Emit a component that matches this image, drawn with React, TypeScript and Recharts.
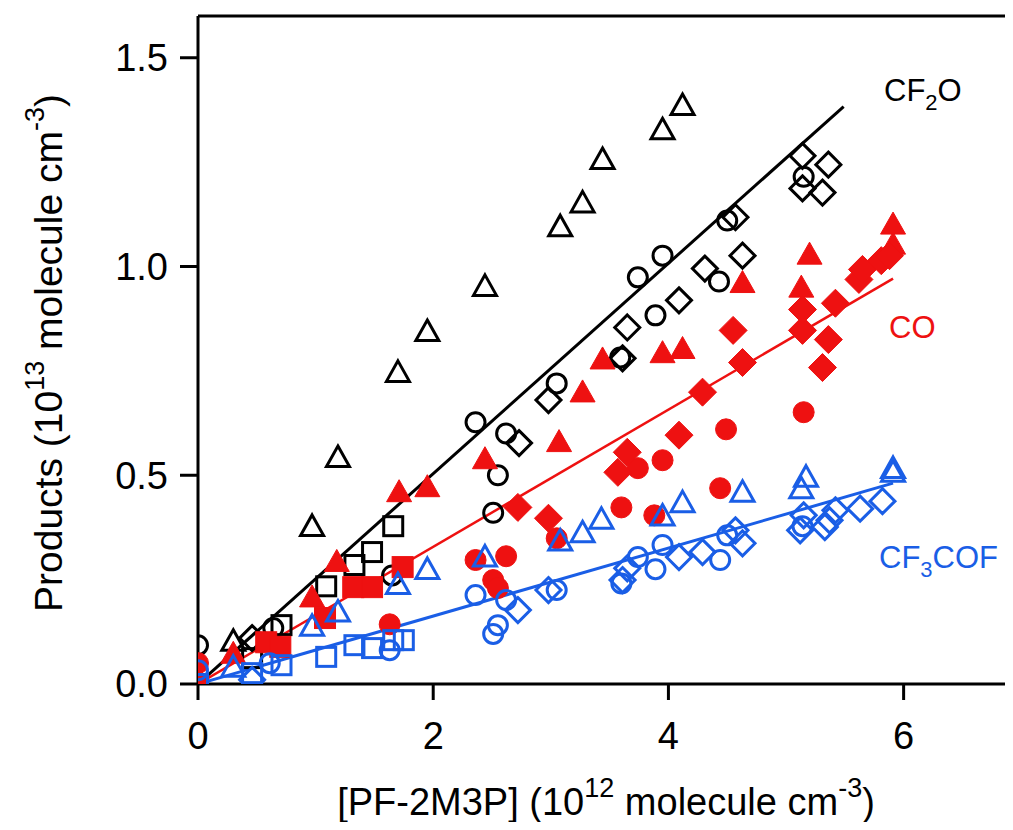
import React from 'react';
import { ScatterChart, Scatter, XAxis, YAxis, ReferenceLine, Label } from 'recharts';

// ---- data (x: 10^12 molecule cm^-3, y: 10^13 molecule cm^-3) ----
const cf2oTriangles = [
  { x: 0.30, y: 0.10 }, { x: 0.97, y: 0.375 }, { x: 1.19, y: 0.54 }, { x: 1.70, y: 0.744 },
  { x: 1.95, y: 0.842 }, { x: 2.44, y: 0.95 }, { x: 3.08, y: 1.093 }, { x: 3.27, y: 1.15 },
  { x: 3.44, y: 1.254 }, { x: 3.95, y: 1.325 }, { x: 4.12, y: 1.383 },
];
const cf2oCircles = [
  { x: 0.0, y: 0.093 }, { x: 0.64, y: 0.134 }, { x: 1.65, y: 0.26 }, { x: 2.36, y: 0.627 },
  { x: 2.62, y: 0.60 }, { x: 2.55, y: 0.50 }, { x: 2.51, y: 0.41 }, { x: 3.05, y: 0.72 },
  { x: 3.59, y: 0.782 }, { x: 3.74, y: 0.974 }, { x: 3.89, y: 0.883 }, { x: 3.95, y: 1.026 },
  { x: 4.43, y: 0.964 }, { x: 4.50, y: 1.11 }, { x: 5.15, y: 1.215 },
];
const cf2oDiamonds = [
  { x: 0.46, y: 0.11 }, { x: 2.73, y: 0.577 }, { x: 2.98, y: 0.68 }, { x: 3.61, y: 0.78 },
  { x: 3.65, y: 0.854 }, { x: 4.09, y: 0.919 }, { x: 4.31, y: 0.995 }, { x: 4.63, y: 1.026 },
  { x: 4.57, y: 1.118 }, { x: 5.14, y: 1.265 }, { x: 5.14, y: 1.187 }, { x: 5.31, y: 1.177 },
  { x: 5.36, y: 1.244 },
];
const cf2oSquares = [
  { x: 0.0, y: 0.0 }, { x: 0.46, y: 0.062 }, { x: 0.71, y: 0.141 }, { x: 1.09, y: 0.234 },
  { x: 1.33, y: 0.285 }, { x: 1.48, y: 0.316 }, { x: 1.66, y: 0.378 },
];

const coTriangles = [
  { x: 0.30, y: 0.07 }, { x: 0.97, y: 0.205 }, { x: 1.18, y: 0.29 }, { x: 1.71, y: 0.457 },
  { x: 1.95, y: 0.469 }, { x: 2.44, y: 0.536 }, { x: 3.07, y: 0.577 }, { x: 3.27, y: 0.696 },
  { x: 3.44, y: 0.775 }, { x: 3.95, y: 0.79 }, { x: 4.12, y: 0.80 }, { x: 4.63, y: 0.958 },
  { x: 5.13, y: 0.947 }, { x: 5.20, y: 1.026 }, { x: 5.91, y: 1.05 }, { x: 5.91, y: 1.098 },
];
const coCircles = [
  { x: 0.0, y: 0.05 }, { x: 1.63, y: 0.143 }, { x: 2.36, y: 0.297 }, { x: 2.62, y: 0.306 },
  { x: 2.51, y: 0.249 }, { x: 2.55, y: 0.23 }, { x: 3.05, y: 0.349 }, { x: 3.60, y: 0.423 },
  { x: 3.74, y: 0.517 }, { x: 3.88, y: 0.404 }, { x: 3.95, y: 0.536 }, { x: 4.44, y: 0.469 },
  { x: 4.49, y: 0.61 }, { x: 5.15, y: 0.651 },
];
const coDiamonds = [
  { x: 2.72, y: 0.423 }, { x: 2.98, y: 0.397 }, { x: 3.57, y: 0.507 }, { x: 3.65, y: 0.555 },
  { x: 4.09, y: 0.596 }, { x: 4.29, y: 0.699 }, { x: 4.55, y: 0.847 }, { x: 4.63, y: 0.77 },
  { x: 5.14, y: 0.847 }, { x: 5.14, y: 0.897 }, { x: 5.31, y: 0.758 }, { x: 5.36, y: 0.825 },
  { x: 5.42, y: 0.912 }, { x: 5.62, y: 0.969 }, { x: 5.65, y: 0.993 }, { x: 5.81, y: 1.014 },
  { x: 5.88, y: 1.026 },
];
const coSquares = [
  { x: 0.0, y: 0.0 }, { x: 0.58, y: 0.10 }, { x: 0.70, y: 0.089 }, { x: 1.08, y: 0.158 },
  { x: 1.32, y: 0.232 }, { x: 1.48, y: 0.232 }, { x: 1.74, y: 0.28 },
];

const cf3cofTriangles = [
  { x: 0.30, y: 0.038 }, { x: 0.97, y: 0.136 }, { x: 1.19, y: 0.17 }, { x: 1.70, y: 0.236 },
  { x: 1.95, y: 0.272 }, { x: 2.44, y: 0.302 }, { x: 3.08, y: 0.34 }, { x: 3.27, y: 0.36 },
  { x: 3.43, y: 0.392 }, { x: 3.95, y: 0.40 }, { x: 4.12, y: 0.432 }, { x: 4.63, y: 0.457 },
  { x: 5.13, y: 0.465 }, { x: 5.17, y: 0.493 }, { x: 5.91, y: 0.505 }, { x: 5.91, y: 0.514 },
];
const cf3cofCircles = [
  { x: 0.0, y: 0.033 }, { x: 0.61, y: 0.05 }, { x: 1.63, y: 0.081 }, { x: 2.36, y: 0.213 },
  { x: 2.62, y: 0.201 }, { x: 2.55, y: 0.141 }, { x: 2.51, y: 0.12 }, { x: 3.05, y: 0.225 },
  { x: 3.60, y: 0.241 }, { x: 3.74, y: 0.304 }, { x: 3.89, y: 0.275 }, { x: 3.95, y: 0.333 },
  { x: 4.44, y: 0.297 }, { x: 4.50, y: 0.356 }, { x: 5.14, y: 0.378 },
];
const cf3cofDiamonds = [
  { x: 0.46, y: 0.01 }, { x: 2.72, y: 0.177 }, { x: 2.98, y: 0.225 }, { x: 3.61, y: 0.249 },
  { x: 3.65, y: 0.277 }, { x: 4.09, y: 0.304 }, { x: 4.29, y: 0.316 }, { x: 4.57, y: 0.368 },
  { x: 4.63, y: 0.337 }, { x: 5.12, y: 0.368 }, { x: 5.15, y: 0.404 }, { x: 5.33, y: 0.376 },
  { x: 5.37, y: 0.392 }, { x: 5.42, y: 0.416 }, { x: 5.63, y: 0.42 }, { x: 5.82, y: 0.438 },
];
const cf3cofSquares = [
  { x: 0.0, y: 0.0 }, { x: 0.46, y: 0.026 }, { x: 0.71, y: 0.045 }, { x: 1.09, y: 0.065 },
  { x: 1.33, y: 0.093 }, { x: 1.48, y: 0.086 }, { x: 1.66, y: 0.105 }, { x: 1.75, y: 0.105 },
];

const fitCF2O = [{ x: 0, y: 0 }, { x: 5.49, y: 1.383 }];
const fitCO = [{ x: 0, y: 0 }, { x: 5.91, y: 0.971 }];
const fitCF3COF = [{ x: 0, y: 0 }, { x: 5.91, y: 0.481 }];

const xTicks = [0, 2, 4, 6];
const yTicks = [0, 0.5, 1.0, 1.5];

const BLACK = '#000000';
const RED = '#ee1111';
const BLUE = '#1a5ee6';
const FONT = '"Liberation Sans", Arial, sans-serif';
const SW = 3;

type ShapeProps = { cx?: number; cy?: number };

const makeShape = (kind: string, color: string, filled: boolean) => (props: ShapeProps) => {
  const { cx, cy } = props;
  if (cx == null || cy == null) return <g />;
  const fill = filled ? color : 'none';
  const sw = filled ? 1 : SW;
  if (kind === 'circle') return <circle cx={cx} cy={cy} r={filled ? 10.5 : 9.5} fill={fill} stroke={color} strokeWidth={sw} />;
  if (kind === 'square') {
    const h = filled ? 10.5 : 9.5;
    return <rect x={cx - h} y={cy - h} width={2 * h} height={2 * h} fill={fill} stroke={color} strokeWidth={sw} />;
  }
  if (kind === 'diamond') {
    const h = filled ? 14 : 12.5;
    return <polygon points={`${cx},${cy - h} ${cx + h},${cy} ${cx},${cy + h} ${cx - h},${cy}`} fill={fill} stroke={color} strokeWidth={sw} strokeLinejoin="miter" />;
  }
  // triangle
  const w = filled ? 12.5 : 11.5;
  const t = filled ? 13.5 : 12.5;
  const b = filled ? 8.5 : 8;
  return <polygon points={`${cx},${cy - t} ${cx + w},${cy + b} ${cx - w},${cy + b}`} fill={fill} stroke={color} strokeWidth={sw} strokeLinejoin="miter" />;
};

const noShape = () => <g />;

const YTitle = () => (
  <text transform="translate(54,345) rotate(-90)" textAnchor="middle" fontFamily={FONT} fontSize={39} fill={BLACK}>
    Products (10<tspan dy={-18} fontSize={27}>13</tspan><tspan dy={18}> molecule cm</tspan><tspan dy={-18} fontSize={27}>-3</tspan><tspan dy={18}>)</tspan>
  </text>
);

const XTitle = () => (
  <text x={598} y={807} textAnchor="middle" fontFamily={FONT} fontSize={38} fill={BLACK}>
    [PF-2M3P] (10<tspan dy={-18} fontSize={27}>12</tspan><tspan dy={18}> molecule cm</tspan><tspan dy={-18} fontSize={27}>-3</tspan><tspan dy={18}>)</tspan>
  </text>
);

const SeriesLabels = () => (
  <g fontFamily={FONT} fontSize={31}>
    <text x={876} y={93} fill={BLACK}>CF<tspan dy={9} fontSize={22}>2</tspan><tspan dy={-9}>O</tspan></text>
    <text x={881} y={330} fill={RED}>CO</text>
    <text x={871} y={560} fill={BLUE}>CF<tspan dy={9} fontSize={22}>3</tspan><tspan dy={-9}>COF</tspan></text>
  </g>
);

const series: Array<[string, any[], string, string, boolean]> = [
  ['cf2oTri', cf2oTriangles, 'triangle', BLACK, false],
  ['cf2oCir', cf2oCircles, 'circle', BLACK, false],
  ['cf2oDia', cf2oDiamonds, 'diamond', BLACK, false],
  ['cf2oSq', cf2oSquares, 'square', BLACK, false],
  ['coTri', coTriangles, 'triangle', RED, true],
  ['coCir', coCircles, 'circle', RED, true],
  ['coDia', coDiamonds, 'diamond', RED, true],
  ['coSq', coSquares, 'square', RED, true],
  ['cfTri', cf3cofTriangles, 'triangle', BLUE, false],
  ['cfCir', cf3cofCircles, 'circle', BLUE, false],
  ['cfDia', cf3cofDiamonds, 'diamond', BLUE, false],
  ['cfSq', cf3cofSquares, 'square', BLUE, false],
];

export default function App() {
  return (
    <div style={{ width: 1005, height: 814, background: '#fff' }}>
      <ScatterChart width={1005} height={820} margin={{ top: 8, right: 0, bottom: 0, left: 0 }}>
        <XAxis
          type="number"
          dataKey="x"
          domain={[0, 6.93]}
          ticks={xTicks}
          allowDataOverflow
          height={144}
          tickSize={16}
          tickMargin={22}
          axisLine={{ stroke: BLACK, strokeWidth: 3 }}
          tickLine={{ stroke: BLACK, strokeWidth: 3 }}
          tick={{ fill: BLACK, fontSize: 38, fontFamily: FONT }}
        >
          <Label content={XTitle} />
        </XAxis>
        <YAxis
          type="number"
          dataKey="y"
          domain={[0, 1.6]}
          ticks={yTicks}
          allowDataOverflow
          width={190}
          tickSize={18}
          tickMargin={12}
          tickFormatter={(v: number) => v.toFixed(1)}
          axisLine={{ stroke: BLACK, strokeWidth: 3 }}
          tickLine={{ stroke: BLACK, strokeWidth: 3 }}
          tick={{ fill: BLACK, fontSize: 38, fontFamily: FONT }}
        >
          <Label content={YTitle} />
        </YAxis>
        <ReferenceLine y={1.6} stroke={BLACK} strokeWidth={3} />
        <Scatter data={fitCF2O} line={{ stroke: BLACK, strokeWidth: 3 }} shape={noShape} isAnimationActive={false} />
        <Scatter data={fitCO} line={{ stroke: RED, strokeWidth: 2.5 }} shape={noShape} isAnimationActive={false} />
        <Scatter data={fitCF3COF} line={{ stroke: BLUE, strokeWidth: 3 }} shape={noShape} isAnimationActive={false} />
        {series.map(([k, d, kind, c, f]) => (
          <Scatter key={k} data={d} shape={makeShape(kind, c, f)} isAnimationActive={false} />
        ))}
        <Label content={SeriesLabels} />
      </ScatterChart>
    </div>
  );
}
